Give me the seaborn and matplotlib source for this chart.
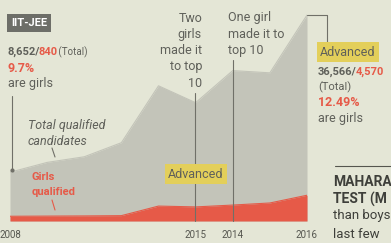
import numpy as np
import pandas as pd
import matplotlib.pyplot as plt
import seaborn as sns

# Data
years = [2008, 2009, 2010, 2011, 2012, 2013, 2014, 2015, 2016]
total_qualified = [8652, 10400, 11400, 13900, 24000, 21000, 26700, 26300, 36566]
girls_qualified = [840, 870, 900, 950, 2650, 2500, 2830, 3200, 4570]
tick_years = [2008, 2013, 2014, 2016]
tick_labels = ["2008", "2015", "2014", "2016"]

BG = "#e4e6d6"
GREY_AREA = "#c3c4b9"
RED = "#e65a48"
TEXT = "#5f605a"
YELLOW = "#e3cf5a"

W, H = 391, 243
sns.set_theme(style="white")
plt.rcParams['font.family'] = ['Roboto', 'DejaVu Sans']

fig = plt.figure(figsize=(W / 100, H / 100), dpi=100, facecolor=BG)
# axes spans chart area: x 10..307 px, baseline at y=221 px, top at y=0
ax = fig.add_axes([10 / W, (H - 221) / H, (307 - 10) / W, 221 / H])
ax.set_facecolor(BG)

df = pd.DataFrame({"year": years, "total": total_qualified, "girls": girls_qualified})
ax.fill_between(df["year"], 0, df["total"], color=GREY_AREA, lw=0)
ax.fill_between(df["year"], 0, df["girls"], color=RED, lw=0)
sns.lineplot(data=df, x="year", y="total", ax=ax, color=GREY_AREA, lw=0.8)
sns.lineplot(data=df, x="year", y="girls", ax=ax, color=RED, lw=0.8)

ax.set_xlim(2008, 2016)
ax.set_ylim(0, 39230)
ax.set_xticks([])
ax.set_yticks([])
ax.set_xlabel("")
ax.set_ylabel("")
for s in ax.spines.values():
    s.set_visible(False)


def px(x, y):
    return x / W, 1 - y / H


def t(x, y, s, **kw):
    kw.setdefault("color", TEXT)
    kw.setdefault("fontsize", 8.5)
    kw.setdefault("va", "center")
    return fig.text(*px(x, y), s, **kw)


def chain(x, y, parts, gap=0):
    # place text pieces one after another on a line
    r = fig.canvas.get_renderer()
    for s, kw in parts:
        txt = t(x, y, s, **kw)
        bb = txt.get_window_extent(renderer=r)
        x = x + bb.width + gap


def line(xs, ys, **kw):
    fx = [x / W for x in xs]
    fy = [1 - y / H for y in ys]
    fig.add_artist(plt.Line2D(fx, fy, color=kw.get("color", "#707068"), lw=kw.get("lw", 0.8)))


# x labels
for yr, lab in zip(tick_years, tick_labels):
    xpix = 10 + (yr - 2008) * (307 - 10) / 8
    if yr == 2008:
        t(0, 235, lab, ha="left", fontsize=7, color="#55564f")
    else:
        t(xpix, 235, lab, ha="center", fontsize=7, color="#55564f")

# IIT-JEE tag
t(11, 23, "IIT-JEE", fontsize=8, fontweight="bold", color="white",
  bbox=dict(boxstyle="square,pad=0.35", fc="#6d6e68", ec="none"))

# left stats
chain(8, 52, [("8,652/", dict(fontweight="bold", fontsize=8)),
              ("840", dict(fontweight="bold", fontsize=8, color=RED)),
              (" (Total)", dict(fontsize=7))], gap=-1.5)
t(8, 68, "9.7%", fontweight="bold", color=RED, fontsize=9)
t(8, 83, "are girls", fontsize=9)
line([12, 12], [96, 170])
fig.add_artist(plt.Line2D([12 / W], [1 - 170 / H], marker="o", ms=2, color="#707068"))

t(28, 126, "Total qualified", fontstyle="italic", fontsize=9)
t(28, 141, "candidates", fontstyle="italic", fontsize=9)
line([52, 55], [148, 157])

t(32, 177, "Girls", fontweight="bold", color=RED, fontsize=8)
t(32, 192, "qualified", fontweight="bold", color=RED, fontsize=8)
line([52, 55], [200, 210], color=RED)

# annotations
for i, s in enumerate(["Two", "girls", "made it", "to top", "10"]):
    t(202, 18 + i * 16.3, s, ha="right", fontsize=9)
line([195, 195], [93, 221])

for i, s in enumerate(["One girl", "made it to", "top 10"]):
    t(228, 18 + i * 16.3, s, ha="left", fontsize=9)
line([233, 233], [60, 221])

t(168, 174, "Advanced", fontsize=9,
  bbox=dict(boxstyle="square,pad=0.25", fc=YELLOW, ec="none"))

# right stats
line([307, 327, 327], [15, 15, 43])
t(320, 52, "Advanced", fontsize=9,
  bbox=dict(boxstyle="square,pad=0.25", fc=YELLOW, ec="none"))
chain(318, 72, [("36,566/", dict(fontweight="bold", fontsize=8)),
                ("4,570", dict(fontweight="bold", fontsize=8, color=RED))], gap=-1.5)
t(318, 87, "(Total)", fontsize=8)
t(318, 102, "12.49%", fontweight="bold", color=RED, fontsize=9)
t(318, 118, "are girls", fontsize=9)

# neighbouring article, cut off at the edge
line([335, 391], [166, 166], color="#55564f")
t(333, 182, "MAHARA", fontweight="bold", fontsize=10, color="#3e3f3a")
t(333, 199, "TEST (M", fontweight="bold", fontsize=10, color="#3e3f3a")
t(333, 216, "than boys", fontsize=9.5, color="#3e3f3a")
t(333, 234, "last few", fontsize=9.5, color="#3e3f3a")

fig.savefig("out.png", dpi=100, facecolor=BG)
